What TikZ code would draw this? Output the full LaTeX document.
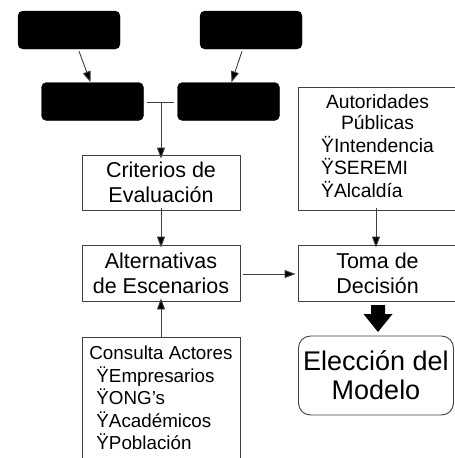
\documentclass[tikz,border=0pt]{standalone}
\usepackage{fontspec}
\setmainfont{Liberation Sans}
\usetikzlibrary{arrows.meta}
\begin{document}
\begin{tikzpicture}[x=1pt,y=-1pt,
  blk/.style={draw=black,fill=black,rounded corners=5pt,minimum width=102pt,minimum height=38pt,inner sep=0pt},
  box/.style={draw=black!75,line width=0.9pt,inner sep=0pt,font=\fontsize{21.5}{25}\selectfont,align=center},
  conn/.style={draw=black!75,line width=0.9pt,-{Triangle[length=11pt,width=8pt,fill=black]}}]
\useasboundingbox (0,0) rectangle (455,458);
\clip (0,0) rectangle (455,458);
\node[blk] (tl) at (69,30) {};
\node[blk] (tr) at (251,30) {};
\node[blk] (ml) at (92.5,101.5) {};
\node[blk] (mr) at (228.5,101.5) {};
\node[box,minimum width=158pt,minimum height=55pt] (crit) at (161,182.5) {Criterios de\\Evaluación};
\node[box,minimum width=158pt,minimum height=56pt] (alt) at (161,273) {Alternativas\\de Escenarios};
\node[box,minimum width=158pt,minimum height=126pt,font=\fontsize{18.8}{22.5}\selectfont] (cons) at (161,400) {%
  \begin{tabular}{@{}l@{}}Consulta Actores\\\hspace{7pt}ŸEmpresarios\\\hspace{7pt}ŸONG’s\\\hspace{7pt}ŸAcadémicos\\\hspace{7pt}ŸPoblación\end{tabular}};
\node[box,minimum width=159pt,minimum height=123pt,font=\fontsize{19.3}{21.5}\selectfont] (aut) at (377.5,148.5) {%
  \begin{tabular}{@{}l@{}}\multicolumn{1}{@{}c@{}}{Autoridades}\\\multicolumn{1}{@{}c@{}}{Públicas}\\ŸIntendencia\\ŸSEREMI\\ŸAlcaldía\end{tabular}};
\node[box,minimum width=159pt,minimum height=56pt] (toma) at (377.5,273) {Toma de\\Decisión};
\node[box,rounded corners=12pt,minimum width=155pt,minimum height=79pt,font=\fontsize{27}{29}\selectfont] (elec) at (376,375.5) {Elección del\\Modelo};
% arrows top
\draw[conn] (tl.south) ++(10,2) coordinate (a1) -- ([xshift=-2pt]ml.north);
\draw[conn] (tr.south) ++(-9,2) coordinate (a2) -- ([xshift=3pt]mr.north);
% T junction
\coordinate (j1) at (147,102);
\coordinate (j2) at (174,102);
\coordinate (jm) at (161,102);
\draw[draw=black!75,line width=0.9pt] (j1) -- (j2);
\draw[conn] (jm) -- ([yshift=-4pt]crit.north);
\draw[conn] ([yshift=2pt]crit.south) -- ([yshift=-3pt]alt.north);
\draw[conn] ([yshift=-1pt]cons.north) -- ([yshift=3pt]alt.south);
\draw[conn] ([xshift=3pt,yshift=-1pt]alt.east) -- ([xshift=-2pt,yshift=-1pt]toma.west);
\draw[conn] ([xshift=-1.5pt,yshift=2pt]aut.south) -- ([xshift=-1.5pt,yshift=-3pt]toma.north);
% block arrow
\fill[black] (371,305) -- (385,305) -- (385,314) -- (392.5,314) -- (378,332) -- (363.5,314) -- (371,314) -- cycle;
\end{tikzpicture}
\end{document}
